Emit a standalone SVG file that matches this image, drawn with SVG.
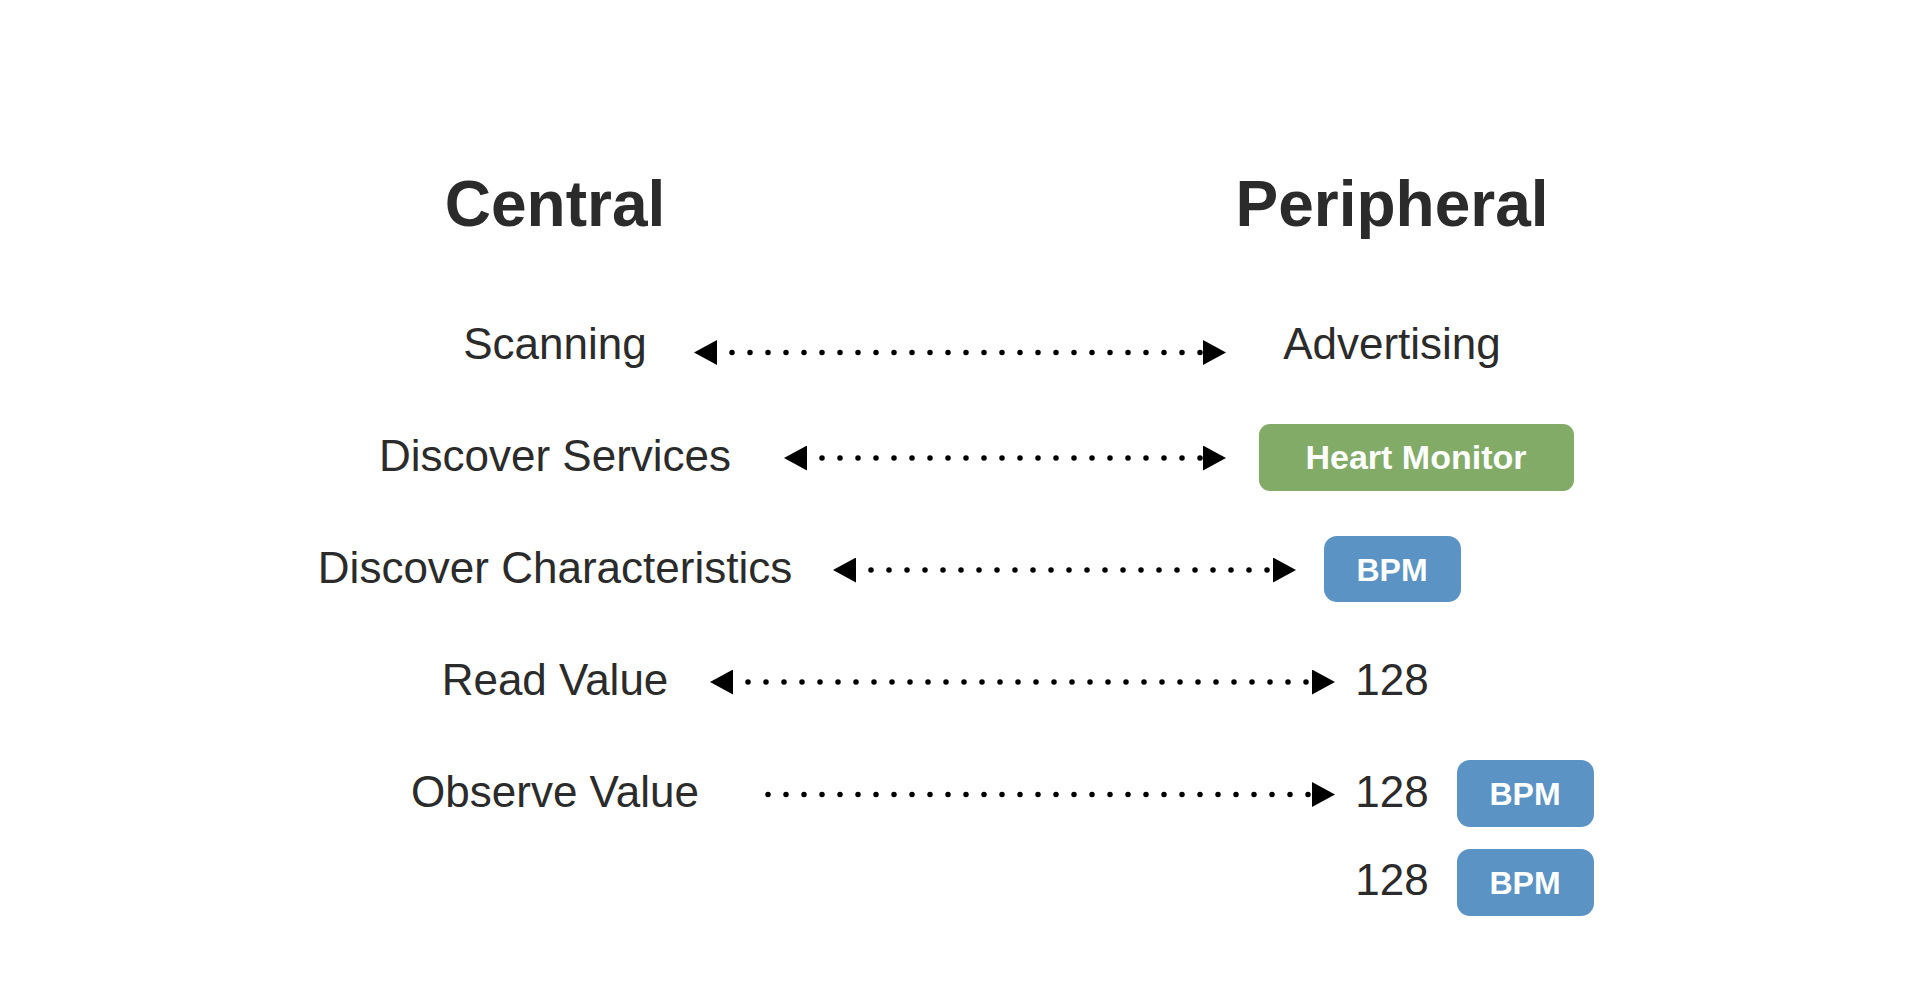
<svg xmlns="http://www.w3.org/2000/svg" width="1920" height="1005" viewBox="0 0 1920 1005">
<defs>
<style>
.h{font-family:"Liberation Sans",Arial,sans-serif;font-weight:bold;font-size:64px;fill:#2b2b2b;text-anchor:middle}
.t{font-family:"Liberation Sans",Arial,sans-serif;font-size:44px;fill:#2b2b2b;text-anchor:middle}
.b{font-family:"Liberation Sans",Arial,sans-serif;font-weight:bold;fill:#ffffff;text-anchor:middle}
.c{fill:none;stroke:#000;stroke-width:5.5;stroke-linecap:round;stroke-dasharray:0 18}
.g{fill:#82ab68}
.bl{fill:#5a93c4}
</style>
<marker id="ar" viewBox="0 0 23 25" refX="23" refY="12.5" markerWidth="23" markerHeight="25" markerUnits="userSpaceOnUse" orient="0">
<path d="M0 0 L23 12.5 L0 25 Z" fill="#000"/>
</marker>
<marker id="al" viewBox="0 0 40 25" refX="38" refY="12.5" markerWidth="40" markerHeight="25" markerUnits="userSpaceOnUse" orient="0">
<path d="M0 12.5 L23 0 L23 25 Z" fill="#000"/>
</marker>
</defs>
<rect width="1920" height="1005" fill="#fff"/>
<g id="central"><text class="h" x="555" y="226">Central</text></g>
<g id="peripheral"><text class="h" x="1392" y="226">Peripheral</text></g>
<g id="scanning"><text class="t" x="555" y="359">Scanning</text></g>
<g id="discover-services"><text class="t" x="555" y="471">Discover Services</text></g>
<g id="discover-characteristics"><text class="t" x="555" y="583">Discover Characteristics</text></g>
<g id="read-value"><text class="t" x="555" y="695">Read Value</text></g>
<g id="observe-value"><text class="t" x="555" y="807">Observe Value</text></g>
<g id="advertising"><text class="t" x="1392" y="359">Advertising</text></g>
<g id="heart-monitor"><rect class="g" x="1259" y="424" width="315" height="67" rx="11"/><text class="b" x="1416" y="469" font-size="34">Heart Monitor</text></g>
<g id="bpm1"><rect class="bl" x="1324" y="536" width="137" height="66" rx="13"/><text class="b" x="1392" y="581" font-size="32">BPM</text></g>
<g id="v1"><text class="t" x="1392" y="695">128</text></g>
<g id="v2"><text class="t" x="1392" y="807">128</text></g>
<g id="bpm2"><rect class="bl" x="1457" y="760" width="137" height="67" rx="13"/><text class="b" x="1525" y="805" font-size="32">BPM</text></g>
<g id="v3"><text class="t" x="1392" y="895">128</text></g>
<g id="bpm3"><rect class="bl" x="1457" y="849" width="137" height="67" rx="13"/><text class="b" x="1525" y="894" font-size="32">BPM</text></g>
<g id="connectors">
<path class="c" d="M732 352.5 H1226" marker-start="url(#al)" marker-end="url(#ar)"/>
<path class="c" d="M822 458 H1226" marker-start="url(#al)" marker-end="url(#ar)"/>
<path class="c" d="M871 570 H1296" marker-start="url(#al)" marker-end="url(#ar)"/>
<path class="c" d="M748 682 H1335" marker-start="url(#al)" marker-end="url(#ar)"/>
<path class="c" d="M768 794.5 H1335" marker-end="url(#ar)"/>
</g>
</svg>
